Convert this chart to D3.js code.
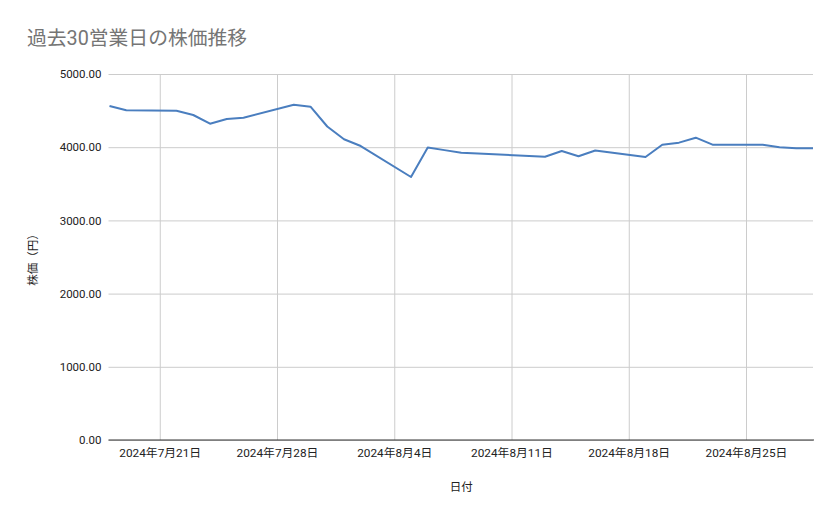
<!DOCTYPE html>
<html>
<head>
<meta charset="utf-8">
<script src="https://cdn.jsdelivr.net/npm/d3@7"></script>
<style>
  body { margin: 0; background: #fff; }
  svg { display: block; }
</style>
</head>
<body>
<svg id="chart" width="839" height="519"></svg>
<script>
// 過去30営業日の終値 (目測)
const dates = [
  '2024-07-18', '2024-07-19', '2024-07-22', '2024-07-23', '2024-07-24', '2024-07-25', '2024-07-26',
  '2024-07-29', '2024-07-30', '2024-07-31', '2024-08-01', '2024-08-02',
  '2024-08-05', '2024-08-06', '2024-08-07', '2024-08-08', '2024-08-09',
  '2024-08-13', '2024-08-14', '2024-08-15', '2024-08-16',
  '2024-08-19', '2024-08-20', '2024-08-21', '2024-08-22', '2024-08-23',
  '2024-08-26', '2024-08-27', '2024-08-28', '2024-08-29'
]
const prices = [
  4563, 4504, 4499, 4440, 4321, 4385, 4403,
  4580, 4553, 4283, 4108, 4016,
  3593, 3996, 3960, 3925, 3913,
  3870, 3948, 3877, 3955,
  3866, 4034, 4062, 4130, 4035,
  4035, 4000, 3985, 3985
]
const yTicks = [0, 1000, 2000, 3000, 4000, 5000]

const titleText = '過去30営業日の株価推移'
const xTitle = '日付'
const yTitle = '株価（円）'

const parse = d3.timeParse('%Y-%m-%d')
const data = dates.map((d, i) => ({date: parse(d), price: prices[i]}))

const svg = d3.select('#chart')
const plot = {left: 109.5, right: 813, top: 74, bottom: 440}
const fontFamily = 'Roboto, "Noto Sans CJK JP", sans-serif'

const x = d3.scaleTime()
  .domain(d3.extent(data, d => d.date))
  .range([plot.left, plot.right])

const y = d3.scaleLinear()
  .domain([0, 5000])
  .range([plot.bottom, plot.top])

// title
svg.append('text')
  .attr('x', 27)
  .attr('y', 45)
  .attr('fill', '#757575')
  .attr('font-family', fontFamily)
  .attr('font-size', 19.8)
  .text(titleText)

// horizontal grid + y labels
const yAxis = g => g
  .attr('transform', `translate(${plot.left - 1},0)`)
  .call(d3.axisLeft(y).tickValues(yTicks).tickFormat(d3.format('.2f'))
    .tickSize(-(plot.right - plot.left + 1)).tickPadding(7))
  .call(g => g.select('.domain').remove())
  .call(g => g.selectAll('.tick line').attr('stroke', '#cccccc'))
  .call(g => g.selectAll('.tick text')
    .attr('fill', '#222')
    .attr('font-family', fontFamily)
    .attr('font-size', 11.5))

// vertical grid + x labels
const xTicks = d3.timeWeek.range(x.domain()[0], x.domain()[1])
const xAxis = g => g
  .attr('transform', `translate(0,${plot.bottom})`)
  .call(d3.axisBottom(x).tickValues(xTicks)
    .tickFormat(d => `${d.getFullYear()}年${d.getMonth() + 1}月${d.getDate()}日`)
    .tickSize(-(plot.bottom - plot.top)).tickPadding(9))
  .call(g => g.select('.domain').remove())
  .call(g => g.selectAll('.tick line').attr('stroke', '#cccccc'))
  .call(g => g.selectAll('.tick text')
    .attr('fill', '#222')
    .attr('font-family', fontFamily)
    .attr('font-size', 11.8))

svg.append('g').call(yAxis)
svg.append('g').call(xAxis)

// baseline
svg.append('line')
  .attr('x1', plot.left - 1)
  .attr('x2', plot.right + 1)
  .attr('y1', y(0))
  .attr('y2', y(0))
  .attr('stroke', '#333')
  .attr('stroke-width', 1.2)

// price line
const line = d3.line()
  .x(d => x(d.date))
  .y(d => y(d.price))

svg.append('path')
  .datum(data)
  .attr('fill', 'none')
  .attr('stroke', '#4a7ebf')
  .attr('stroke-width', 2)
  .attr('stroke-linejoin', 'round')
  .attr('d', line)

// axis titles
svg.append('text')
  .attr('x', (plot.left + plot.right) / 2)
  .attr('y', 491)
  .attr('text-anchor', 'middle')
  .attr('fill', '#222')
  .attr('font-family', fontFamily)
  .attr('font-size', 11.5)
  .text(xTitle)

svg.append('text')
  .attr('transform', `translate(37,${(plot.top + plot.bottom) / 2}) rotate(-90)`)
  .attr('text-anchor', 'middle')
  .attr('fill', '#222')
  .attr('font-family', fontFamily)
  .attr('font-size', 11.5)
  .text(yTitle)
</script>
</body>
</html>
